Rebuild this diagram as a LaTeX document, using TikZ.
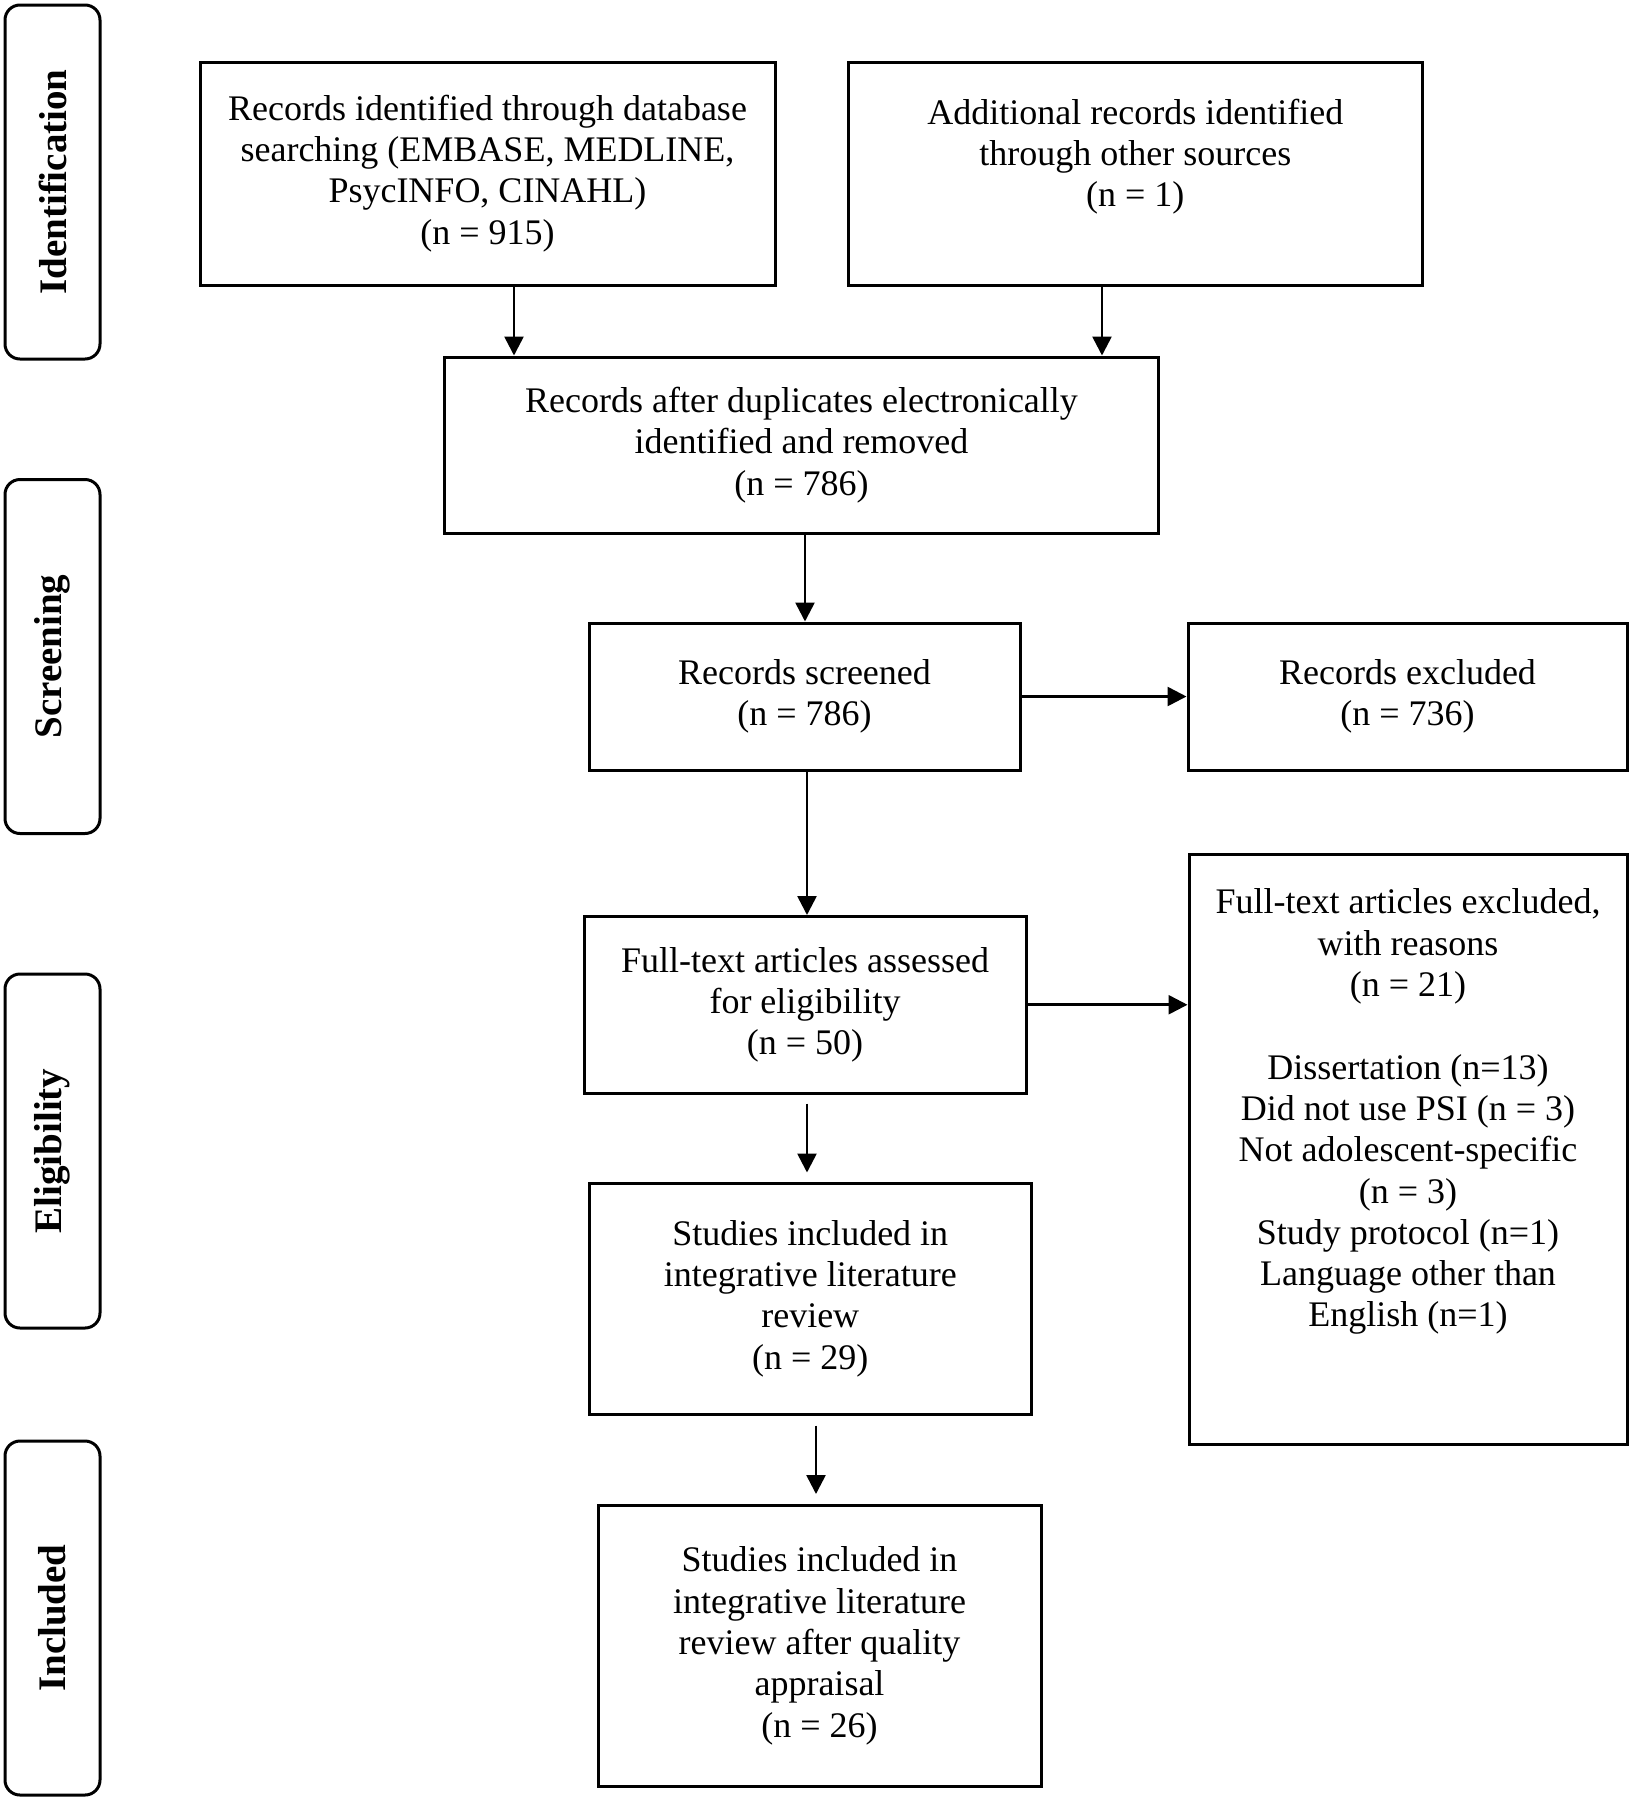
\documentclass[tikz,border=0pt]{standalone}
\usepackage{fontspec}
\setmainfont{Liberation Serif}
\usetikzlibrary{arrows.meta}
\begin{document}
\begin{tikzpicture}[x=0.5pt,y=-0.5pt,
 box/.style={draw, line width=1.5pt, align=center, inner sep=0pt, font=\fontsize{18pt}{20.65pt}\selectfont},
 side/.style={draw, line width=1.5pt, rounded corners=7.5pt, rotate=90, inner sep=0pt, minimum width=177pt, minimum height=47.5pt, font=\fontsize{19.5pt}{22pt}\selectfont\bfseries},
 arr/.style={line width=1.3pt, -{Triangle[length=9.5pt,width=9.5pt]}}]
\useasboundingbox (0,0) rectangle (1634,1800);
\node[box, minimum width=287.5pt, minimum height=111.5pt] (A) at (487.5,173.5) {Records identified through database\\searching (EMBASE, MEDLINE,\\PsycINFO, CINAHL)\\(n = 915)};
\node[box, minimum width=286.7pt, minimum height=111.5pt] (B) at (1135.3,173.5) {Additional records identified\\through other sources\\(n = 1)\\\mbox{}};
\node[box, minimum width=357pt, minimum height=88pt] (C) at (801.5,445) {Records after duplicates electronically\\identified and removed\\(n = 786)};
\node[box, minimum width=215.5pt, minimum height=73.5pt] (D) at (804.5,696.5) {Records screened\\(n = 786)};
\node[box, minimum width=219.5pt, minimum height=73.5pt] (E) at (1407.5,696.5) {Records excluded\\(n = 736)};
\node[box, minimum width=221pt, minimum height=88.25pt] (F) at (805,1004.75) {Full-text articles assessed\\for eligibility\\(n = 50)};
\node[box, minimum width=219pt, minimum height=294.75pt] (G) at (1408,1149.25) {Full-text articles excluded,\\with reasons\\(n = 21)\\\mbox{}\\Dissertation (n=13)\\Did not use PSI (n = 3)\\Not adolescent-specific\\(n = 3)\\Study protocol (n=1)\\Language other than\\English (n=1)\\\mbox{}\\\mbox{}};
\node[box, minimum width=221.25pt, minimum height=115.5pt] (H) at (810.25,1298.5) {Studies included in\\integrative literature\\review\\(n = 29)};
\node[box, minimum width=221.5pt, minimum height=140.25pt] (I) at (819.5,1645.75) {Studies included in\\integrative literature\\review after quality\\appraisal\\(n = 26)};
\node[side] (sid) at (52.5,182) {Identification};
\node[side] (ssc) at (52.5,656.5) {Screening};
\node[side] (sel) at (52.5,1151) {Eligibility};
\node[side] (sin) at (52.5,1618) {Included};
\coordinate (xa) at (514,0);
\coordinate (xb) at (1102,0);
\coordinate (xc) at (805,0);
\coordinate (xd) at (807,0);
\coordinate (xe) at (816,0);
\draw[arr] (A.south -| xa) -- (C.north -| xa);
\draw[arr] (B.south -| xb) -- (C.north -| xb);
\draw[arr] (C.south -| xc) -- (D.north -| xc);
\draw[arr] (D.east) -- (E.west |- D.east);
\draw[arr] (D.south -| xd) -- (F.north -| xd);
\draw[arr] (F.east) -- (G.west |- F.east);
\draw[arr, shorten <=4.5pt, shorten >=4.5pt] (F.south -| xd) -- (H.north -| xd);
\draw[arr, shorten <=5pt, shorten >=5pt] (H.south -| xe) -- (I.north -| xe);
\end{tikzpicture}
\end{document}
